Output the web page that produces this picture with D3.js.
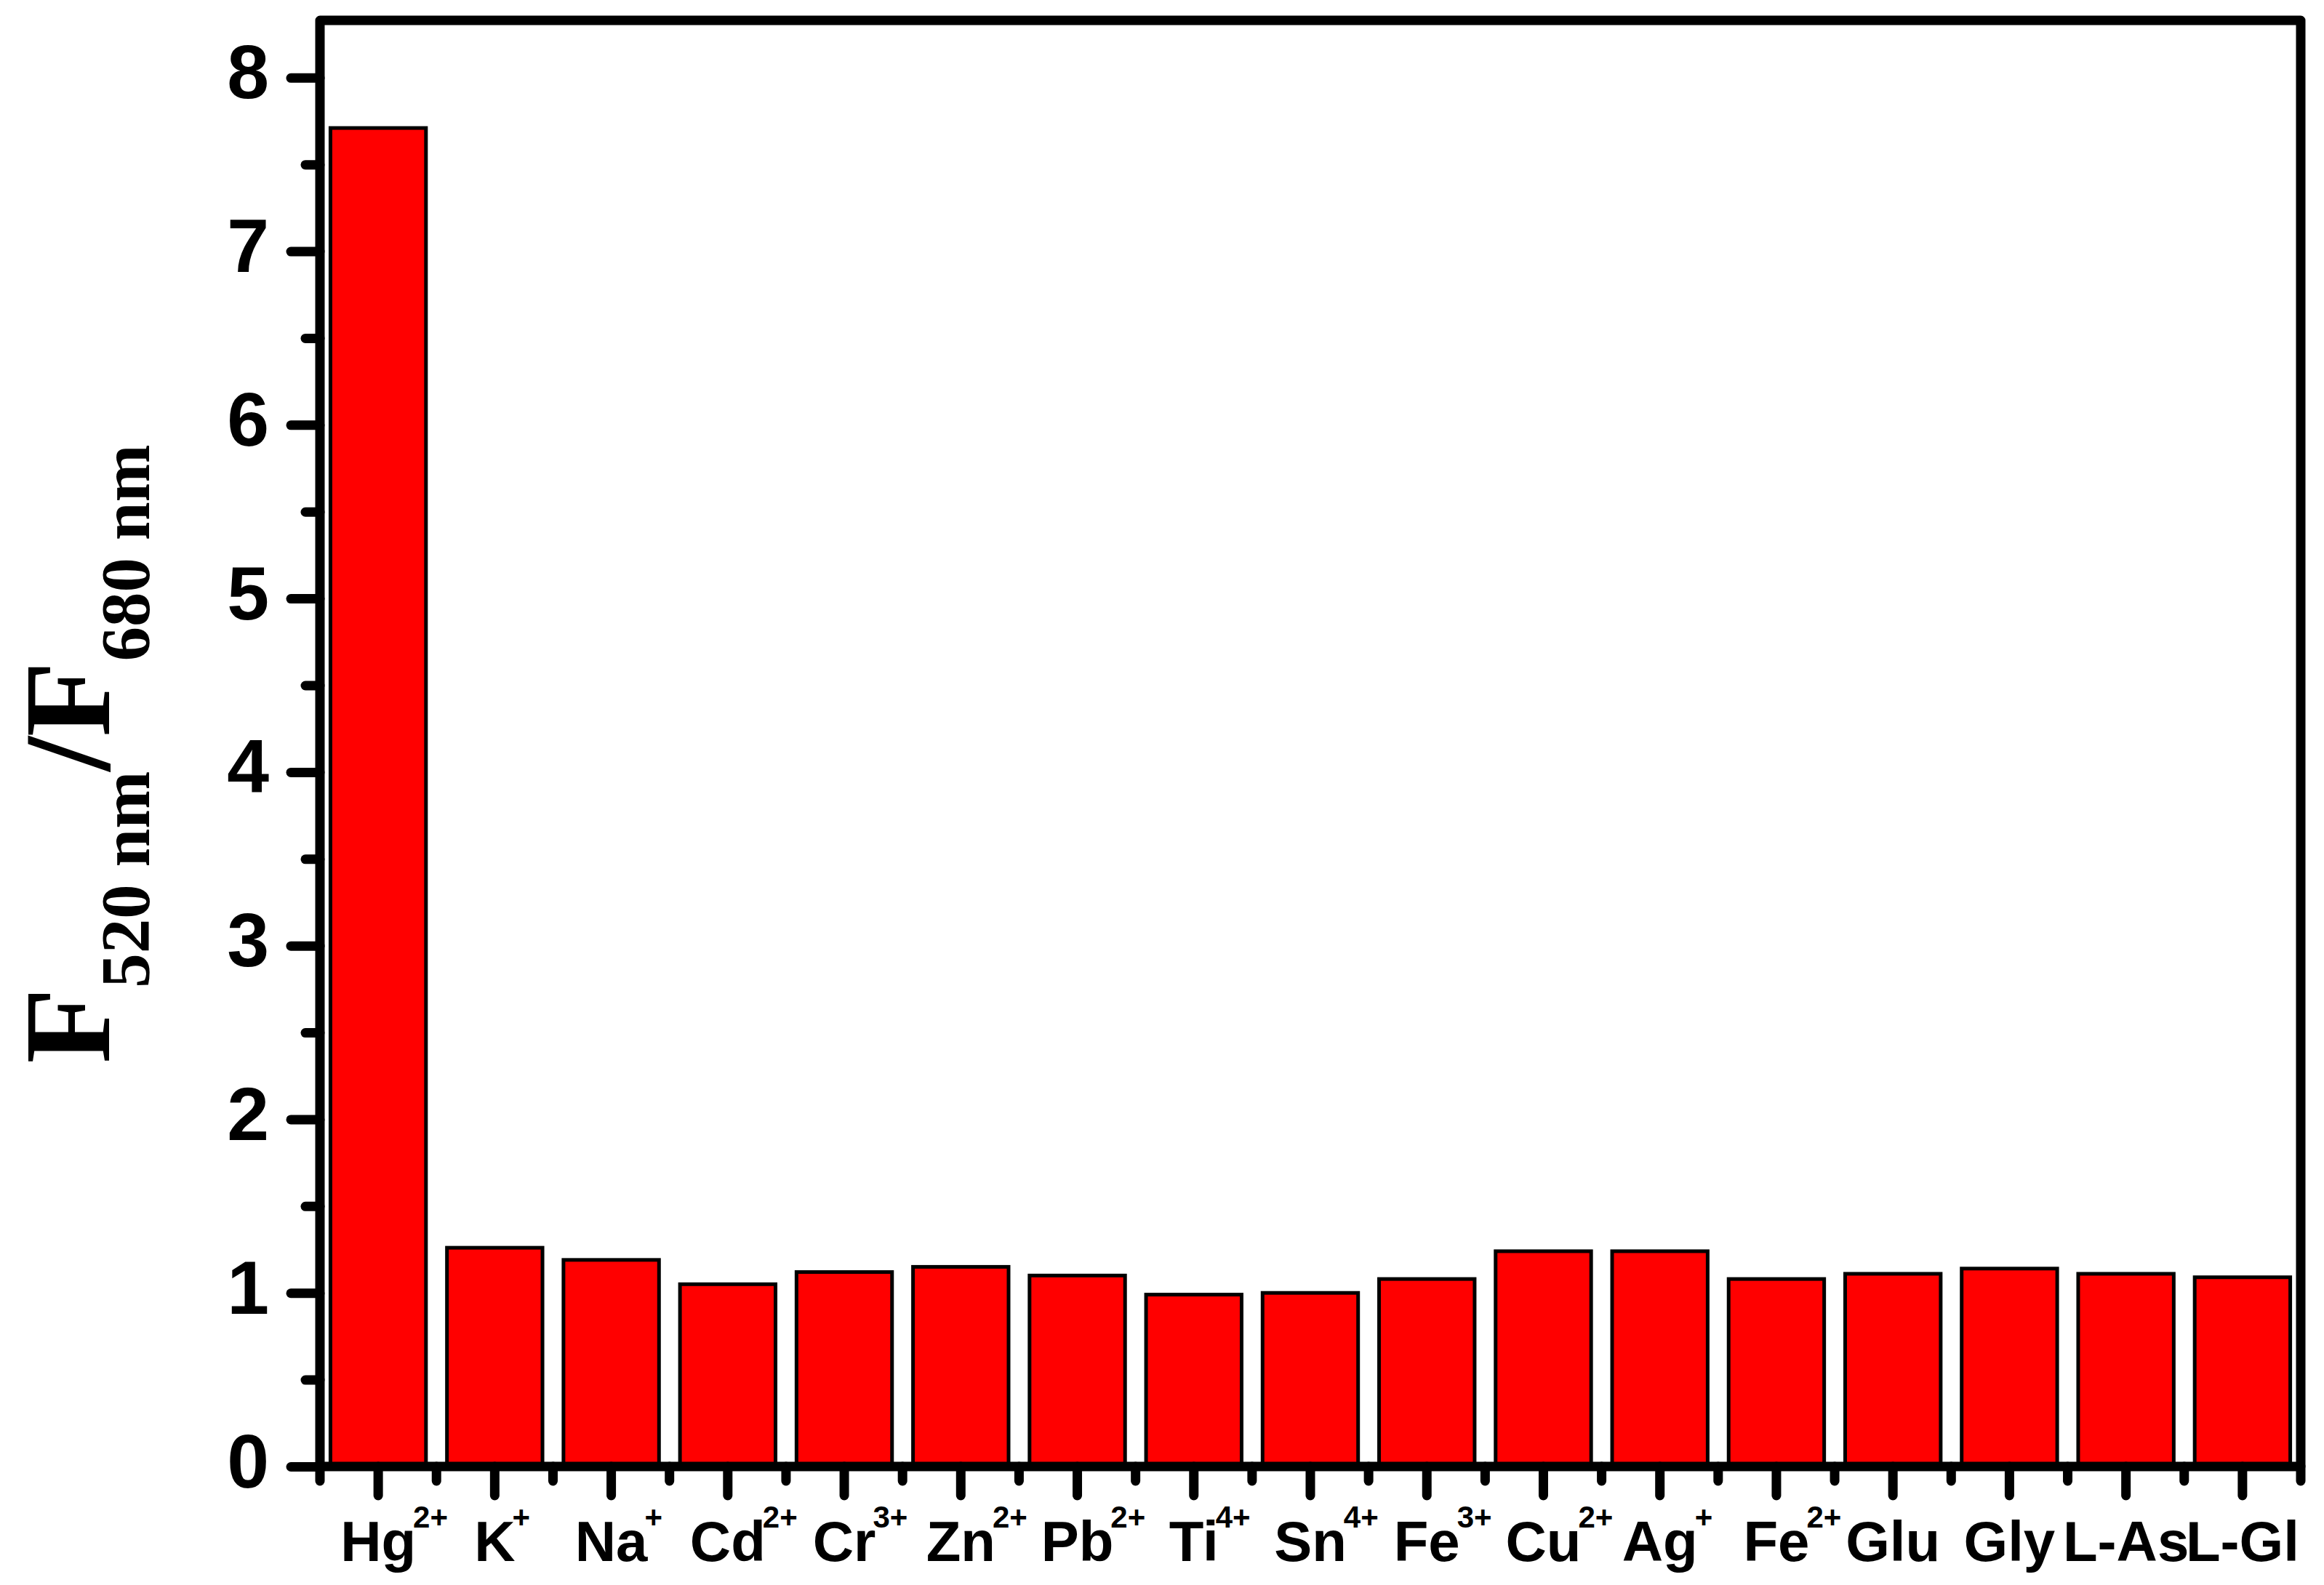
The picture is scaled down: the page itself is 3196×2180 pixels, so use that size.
<!DOCTYPE html>
<html>
<head>
<meta charset="utf-8">
<script src="https://cdn.jsdelivr.net/npm/d3@7"></script>
<style>
  body { margin: 0; background: #fff; }
</style>
</head>
<body>
<svg></svg>
<script>
// ion / analyte names and their charge superscripts
const ions = ['Hg', 'K', 'Na', 'Cd', 'Cr', 'Zn', 'Pb', 'Ti', 'Sn', 'Fe', 'Cu', 'Ag', 'Fe', 'Glu', 'Gly', 'L-As', 'L-Gl'];
const charges = ['2+', '+', '+', '2+', '3+', '2+', '2+', '4+', '4+', '3+', '2+', '+', '2+', '', '', '', ''];
// F520/F680 ratio
const ratios = [7.71, 1.26, 1.19, 1.05, 1.12, 1.15, 1.10, 0.99, 1.00, 1.08, 1.24, 1.24, 1.08, 1.11, 1.14, 1.11, 1.09];
const yMajor = [0, 1, 2, 3, 4, 5, 6, 7, 8];
const yMinor = [0.5, 1.5, 2.5, 3.5, 4.5, 5.5, 6.5, 7.5];

const W = 3196, H = 2180;
// frame edges (line centres)
const frameL = 440, frameR = 3164, frameT = 28, frameB = 2017;

const svg = d3.select('svg')
    .attr('width', W)
    .attr('height', H);

const x = d3.scaleBand()
    .domain(d3.range(ions.length))
    .range([frameL, frameR])
    .paddingInner(0.18)
    .paddingOuter(0.09);

const y = d3.scaleLinear()
    .domain([0, 8.33])
    .range([frameB, frameT]);

// bars
svg.append('g')
    .selectAll('rect')
    .data(ratios)
    .join('rect')
    .attr('x', (d, i) => x(i))
    .attr('width', x.bandwidth())
    .attr('y', d => y(d))
    .attr('height', d => y(0) - y(d))
    .attr('fill', '#ff0000')
    .attr('stroke', '#000')
    .attr('stroke-width', 5);

// minor x ticks sit on the band boundaries
const gap = x.step() * x.paddingInner() / 2;
const boundaries = d3.range(ions.length).map(i => x(i) - gap).concat([x(ions.length - 1) + x.bandwidth() + gap]);

const tickStyle = g => {
    g.select('.domain').remove();
    g.selectAll('.tick line')
        .attr('stroke', '#000')
        .attr('stroke-width', 13)
        .attr('stroke-linecap', 'round');
    g.selectAll('.tick text').remove();
};

// x major ticks at the bar centres
svg.append('g')
    .attr('transform', `translate(0,${frameB})`)
    .call(d3.axisBottom(x).tickSize(40).tickSizeOuter(0).tickFormat(''))
    .call(tickStyle);

svg.append('g')
    .selectAll('line')
    .data(boundaries)
    .join('line')
    .attr('x1', d => d).attr('x2', d => d)
    .attr('y1', frameB).attr('y2', frameB + 20)
    .attr('stroke', '#000')
    .attr('stroke-width', 13)
    .attr('stroke-linecap', 'round');

// y ticks
svg.append('g')
    .attr('transform', `translate(${frameL},0)`)
    .call(d3.axisLeft(y).tickValues(yMinor).tickSize(20).tickSizeOuter(0))
    .call(tickStyle);

const yAxis = svg.append('g')
    .attr('transform', `translate(${frameL},0)`)
    .call(d3.axisLeft(y).tickValues(yMajor).tickSize(40).tickSizeOuter(0).tickPadding(30).tickFormat(d3.format('d')));
yAxis.select('.domain').remove();
yAxis.selectAll('.tick line')
    .attr('stroke', '#000')
    .attr('stroke-width', 13)
    .attr('stroke-linecap', 'round');
yAxis.selectAll('.tick text')
    .attr('fill', '#000')
    .attr('font-family', '"Liberation Sans", Arial, sans-serif')
    .attr('font-weight', 'bold')
    .attr('font-size', 104)
    .attr('dy', '0.27em');

// frame
svg.append('rect')
    .attr('x', frameL)
    .attr('y', frameT)
    .attr('width', frameR - frameL)
    .attr('height', frameB - frameT)
    .attr('fill', 'none')
    .attr('stroke', '#000')
    .attr('stroke-width', 13)
    .attr('stroke-linejoin', 'round');

// x labels: base name centred on the bar, charge hanging off as superscript
const labels = svg.append('g')
    .attr('font-family', '"Liberation Sans", Arial, sans-serif')
    .attr('font-weight', 'bold')
    .attr('fill', '#000');

ions.forEach((name, i) => {
    const cx = x(i) + x.bandwidth() / 2;
    const t = labels.append('text')
        .attr('x', cx)
        .attr('y', 2147)
        .attr('text-anchor', 'middle')
        .attr('font-size', 78)
        .text(name);
    if (charges[i]) {
        const w = t.node().getComputedTextLength();
        labels.append('text')
            .attr('x', cx + w / 2 - 4)
            .attr('y', 2101)
            .attr('font-size', 42)
            .text(charges[i]);
    }
});

// y title  F520 nm / F680 nm
const title = svg.append('text')
    .attr('transform', 'translate(150,1037) rotate(-90)')
    .attr('text-anchor', 'middle')
    .attr('font-family', '"Liberation Serif", "Times New Roman", serif')
    .attr('font-weight', 'bold')
    .attr('fill', '#000');
title.append('tspan').attr('font-size', 170).text('F');
title.append('tspan').attr('font-size', 95).attr('dy', 55).text('520 nm');
title.append('tspan').attr('font-size', 170).attr('dy', -55).text('/F');
title.append('tspan').attr('font-size', 95).attr('dy', 55).text('680 nm');
</script>
</body>
</html>
